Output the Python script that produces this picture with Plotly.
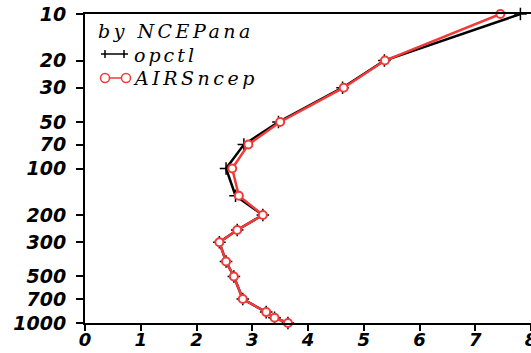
import plotly.graph_objects as go

# ---- data ----
levels = [10, 20, 30, 50, 70, 100, 150, 200, 250, 300, 400, 500, 700, 850, 925, 1000]
opctl = [7.81, 5.37, 4.62, 3.47, 2.85, 2.53, 2.70, 3.19, 2.73, 2.41, 2.53, 2.67, 2.83, 3.25, 3.40, 3.64]
airsncep = [7.45, 5.38, 4.64, 3.50, 2.93, 2.64, 2.76, 3.19, 2.73, 2.41, 2.53, 2.67, 2.83, 3.25, 3.40, 3.64]
x_ticks = [0, 1, 2, 3, 4, 5, 6, 7, 8]
y_ticks = [10, 20, 30, 50, 70, 100, 200, 300, 500, 700, 1000]
legend_title = "by NCEPana"
names = ["opctl", "AIRSncep"]

W, H = 531, 353
ML, MR, MT, MB = 85, 0, 14, 30
PW, PH = W - ML - MR, H - MT - MB

RED = "#f23a3a"
BLACK = "#000000"

fig = go.Figure()
fig.add_trace(go.Scatter(
    x=opctl, y=levels, mode="lines+markers", name=names[0],
    line=dict(color=BLACK, width=2.5),
    marker=dict(symbol="cross-thin", size=9, line=dict(color=BLACK, width=1.5)),
    showlegend=False, cliponaxis=False, hoverinfo="skip"))
fig.add_trace(go.Scatter(
    x=airsncep, y=levels, mode="lines+markers", name=names[1],
    line=dict(color=RED, width=2.5),
    marker=dict(symbol="circle", size=8, color="white", line=dict(color=RED, width=2)),
    showlegend=False, cliponaxis=False, hoverinfo="skip"))


def px(xp):
    return (xp - ML) / PW


def py(yp):
    return (MT + PH - yp) / PH


shapes = []
annotations = []
tfont = dict(family="DejaVu Serif", size=19, color="black", style="italic")


def label(text, x0, yc, spacing):
    annotations.append(dict(
        xref="paper", yref="paper", x=px(x0), y=py(yc), xanchor="left", yanchor="middle",
        text='<span style="letter-spacing:%.1fpx">' % spacing + text + '</span>', showarrow=False,
        font=tfont))


label(legend_title, 96, 31, 3.5)

# opctl legend sample: line with + marks
shapes.append(dict(type="line", xref="paper", yref="paper", x0=px(101), x1=px(128), y0=py(54), y1=py(54),
                   line=dict(color=BLACK, width=1.5)))
for xc in (105, 124):
    shapes.append(dict(type="line", xref="paper", yref="paper", x0=px(xc), x1=px(xc), y0=py(50), y1=py(58),
                       line=dict(color=BLACK, width=1.5)))
label(names[0], 132, 55, 3.0)

# AIRSncep legend sample: line with open circles
shapes.append(dict(type="line", xref="paper", yref="paper", x0=px(105), x1=px(126), y0=py(78), y1=py(78),
                   line=dict(color=RED, width=1.5)))
for xc in (105, 126):
    shapes.append(dict(type="circle", xref="paper", yref="paper", x0=px(xc - 4.5), x1=px(xc + 4.5),
                       y0=py(82.5), y1=py(73.5), line=dict(color=RED, width=1.5), fillcolor="white"))
label(names[1], 131, 78, 3.5)

tickfont = dict(family="DejaVu Sans", size=19, color="black", weight="bold", style="italic")
xtickfont = dict(family="DejaVu Sans", size=18, color="black", weight="bold", style="italic")

fig.update_layout(
    width=W, height=H, autosize=False,
    margin=dict(l=ML, r=MR, t=MT, b=MB, pad=0, autoexpand=False),
    paper_bgcolor="white", plot_bgcolor="white",
    hovermode=False,
    shapes=shapes, annotations=annotations,
    xaxis=dict(range=[0, 8], tickvals=x_ticks, ticktext=[str(v) for v in x_ticks],
               showgrid=False, zeroline=False, showline=True, linecolor="black", linewidth=2,
               mirror=True, ticks="outside", ticklen=6, tickwidth=2, tickcolor="black",
               tickfont=xtickfont, ticklabelstandoff=-7, ticklabeloverflow="allow",
               automargin=False, fixedrange=True),
    yaxis=dict(type="log", range=[3, 1], tickvals=y_ticks, ticktext=[str(v) for v in y_ticks],
               showgrid=False, zeroline=False, showline=True, linecolor="black", linewidth=2,
               ticks="outside", ticklen=7, tickwidth=2, tickcolor="black",
               tickfont=tickfont, ticklabelstandoff=6, ticklabeloverflow="allow",
               automargin=False, fixedrange=True),
)

fig.write_html("out.html",
               config={"displayModeBar": False, "staticPlot": True},
               post_script="document.body.style.margin='0';document.body.style.padding='0';"
                           "document.documentElement.style.overflow='hidden';")
